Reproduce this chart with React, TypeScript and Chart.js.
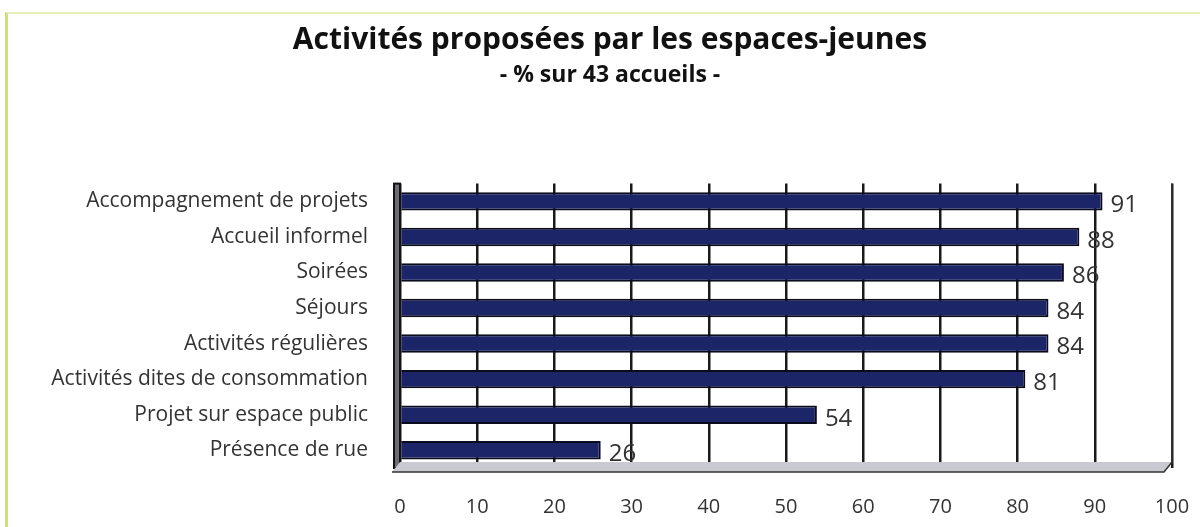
import React, { useEffect, useRef } from "react";
import { Chart, registerables } from "chart.js";

Chart.register(...registerables);

const categories = [
  "Accompagnement de projets",
  "Accueil informel",
  "Soirées",
  "Séjours",
  "Activités régulières",
  "Activités dites de consommation",
  "Projet sur espace public",
  "Présence de rue",
];
const values = [91, 88, 86, 84, 84, 81, 54, 26];
const titleText = "Activités proposées par les espaces-jeunes";
const subtitleText = "- % sur 43 accueils -";

const FONT = "'Open Sans', 'DejaVu Sans', sans-serif";

const valueLabels = {
  id: "valueLabels",
  afterDatasetsDraw(chart: any) {
    const ctx = chart.ctx;
    const meta = chart.getDatasetMeta(0);
    ctx.save();
    ctx.fillStyle = "#333333";
    ctx.font = `24px ${FONT}`;
    ctx.textAlign = "left";
    ctx.textBaseline = "middle";
    meta.data.forEach((bar: any, i: number) => {
      ctx.fillText(String(values[i]), bar.x + 8, bar.y + 4);
    });
    ctx.restore();
  },
};

const floor3d = {
  id: "floor3d",
  beforeDatasetsDraw(chart: any) {
    const { ctx, chartArea } = chart;
    const { left, right, bottom, top } = chartArea;
    ctx.save();
    ctx.fillStyle = "#6d6d72";
    ctx.fillRect(left - 6, top, 6, bottom - top);
    ctx.strokeStyle = "#111";
    ctx.lineWidth = 2;
    ctx.strokeRect(left - 6, top, 6, bottom - top);
    ctx.fillStyle = "#c9c9d2";
    ctx.beginPath();
    ctx.moveTo(left, bottom - 6);
    ctx.lineTo(right, bottom - 6);
    ctx.lineTo(right - 8, bottom + 4);
    ctx.lineTo(left - 8, bottom + 4);
    ctx.closePath();
    ctx.fill();
    ctx.strokeStyle = "#333";
    ctx.lineWidth = 1.5;
    ctx.beginPath();
    ctx.moveTo(left - 8, bottom + 4);
    ctx.lineTo(right - 8, bottom + 4);
    ctx.lineTo(right, bottom - 6);
    ctx.lineTo(right, top);
    ctx.stroke();
    ctx.restore();
  },
};

export default function App() {
  const ref = useRef<HTMLCanvasElement>(null);
  useEffect(() => {
    document.body.style.margin = "0";
    const chart = new Chart(ref.current!, {
      type: "bar",
      data: {
        labels: categories,
        datasets: [
          {
            data: values,
            backgroundColor: "#1c2568",
            borderColor: "#0b0b1e",
            borderWidth: 2,
            barPercentage: 0.52,
            categoryPercentage: 1,
          },
        ],
      },
      options: {
        indexAxis: "y",
        responsive: false,
        animation: false,
        layout: { padding: { left: 48, right: 28, top: 0, bottom: 0 } },
        plugins: {
          legend: { display: false },
          tooltip: { enabled: false },
          title: {
            display: true,
            text: titleText,
            color: "#111",
            font: { family: FONT, size: 30, weight: "bold" },
            padding: { top: 22, bottom: 4 },
          },
          subtitle: {
            display: true,
            text: subtitleText,
            color: "#111",
            font: { family: FONT, size: 23, weight: "bold" },
            padding: { top: 0, bottom: 94 },
          },
        },
        scales: {
          x: {
            min: 0,
            max: 100,
            ticks: {
              stepSize: 10,
              color: "#333",
              font: { family: FONT, size: 20 },
              padding: 27,
            },
            grid: { color: "#1a1a1a", lineWidth: 2.5, drawTicks: false },
            border: { display: false },
            afterFit: (s: any) => {
              s.height = 59;
              s.paddingRight = 0;
              s.paddingLeft = 0;
            },
          },
          y: {
            ticks: {
              color: "#333",
              font: { family: FONT, size: 21 },
              padding: 32,
              autoSkip: false,
            },
            grid: { display: false, drawTicks: false },
            border: { display: false },
            afterFit: (s: any) => {
              s.width = 352;
            },
          },
        },
      },
      plugins: [floor3d, valueLabels],
    } as any);
    return () => chart.destroy();
  }, []);
  return (
    <div
      style={{
        position: "absolute",
        left: 0,
        top: 0,
        width: 1200,
        height: 527,
        background: "#fff",
      }}
    >
      <div
        style={{
          position: "absolute",
          left: 5,
          top: 12,
          width: 1195,
          height: 515,
          borderLeft: "3px solid #cfe07a",
          borderTop: "2px solid #e6efb8",
        }}
      />
      <canvas ref={ref} width={1200} height={527} style={{ position: "absolute", left: 0, top: 0 }} />
    </div>
  );
}
